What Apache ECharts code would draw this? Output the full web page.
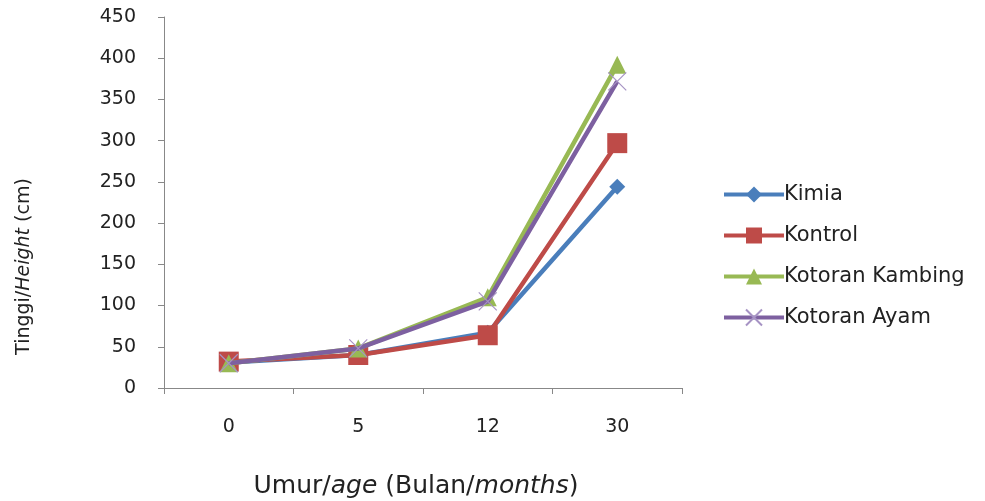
<!DOCTYPE html>
<html><head><meta charset="utf-8">
<script src="https://cdn.jsdelivr.net/npm/echarts@6/dist/echarts.min.js"></script>
<style>html,body{margin:0;padding:0;background:#fff}#c{width:985px;height:501px}</style>
</head><body><div id="c"></div>
<script>
const categories = ['0', '5', '12', '30'];
const kimia = [31, 40, 67, 244];
const kontrol = [32, 40, 64, 297];
const kambing = [30, 48, 110, 392];
const ayam = [30, 48, 105, 372];
const seriesNames = ['Kimia', 'Kontrol', 'Kotoran Kambing', 'Kotoran Ayam'];
const font = 'DejaVu Sans';
const chart = echarts.init(document.getElementById('c'));
const crossPath = 'path://M0,0L10,10M10,0L0,10';
chart.setOption({
  animation: false,
  backgroundColor: '#fff',
  grid: {left: 164, right: 303, top: 17, bottom: 113, containLabel: false, outerBoundsMode: 'none'},
  legend: {
    orient: 'vertical', left: 717, top: 179, itemGap: 20,
    itemWidth: 60, itemHeight: 20,
    lineStyle: {width: 4},
    textStyle: {fontFamily: font, fontSize: 21, color: '#222', padding: [0, 0, 0, -5]},
    data: seriesNames
  },
  xAxis: {
    type: 'category', data: categories, boundaryGap: true,
    axisLine: {lineStyle: {color: '#888', width: 1}},
    axisTick: {show: true, length: 6, lineStyle: {color: '#888'}},
    axisLabel: {fontFamily: font, fontSize: 19, color: '#222', margin: 30},
    name: '{a|Umur/}{b|age}{a| (Bulan/}{b|months}{a|)}',
    nameLocation: 'middle', nameGap: 86,
    nameTextStyle: {padding: [0, 14, 0, 0], rich: {
      a: {fontFamily: font, fontSize: 25, color: '#222'},
      b: {fontFamily: font, fontSize: 25, color: '#222', fontStyle: 'italic'}
    }}
  },
  yAxis: {
    type: 'value', min: 0, max: 450, interval: 50,
    axisLine: {show: true, lineStyle: {color: '#888', width: 1}},
    axisTick: {show: true, length: 6, lineStyle: {color: '#888'}},
    splitLine: {show: false},
    axisLabel: {fontFamily: font, fontSize: 19, color: '#222', margin: 28},
    name: '{a|Tinggi/}{b|Height}{a| (cm)}',
    nameLocation: 'middle', nameGap: 130, nameRotate: 90,
    nameTextStyle: {padding: [0, 128, 0, 0], rich: {
      a: {fontFamily: font, fontSize: 19, color: '#222'},
      b: {fontFamily: font, fontSize: 19, color: '#222', fontStyle: 'italic'}
    }}
  },
  series: [
    {name: seriesNames[0], type: 'line', data: kimia, symbol: 'diamond', symbolSize: 16,
     lineStyle: {width: 4.5, color: '#4A7EBB'}, itemStyle: {color: '#4A7EBB'}, z: 2},
    {name: seriesNames[1], type: 'line', data: kontrol, symbol: 'rect', symbolSize: 20,
     lineStyle: {width: 4.5, color: '#BE4B48'}, itemStyle: {color: '#BE4B48'}, z: 3},
    {name: seriesNames[2], type: 'line', data: kambing, symbol: 'triangle', symbolSize: 18,
     lineStyle: {width: 4.5, color: '#98B954'}, itemStyle: {color: '#98B954'}, z: 4},
    {name: seriesNames[3], type: 'line', data: ayam, symbol: crossPath, symbolSize: 18,
     lineStyle: {width: 4.5, color: '#7D60A0'},
     itemStyle: {color: '#7D60A0', borderColor: '#A693C4', borderWidth: 1.2}, z: 5}
  ]
});
</script></body></html>
